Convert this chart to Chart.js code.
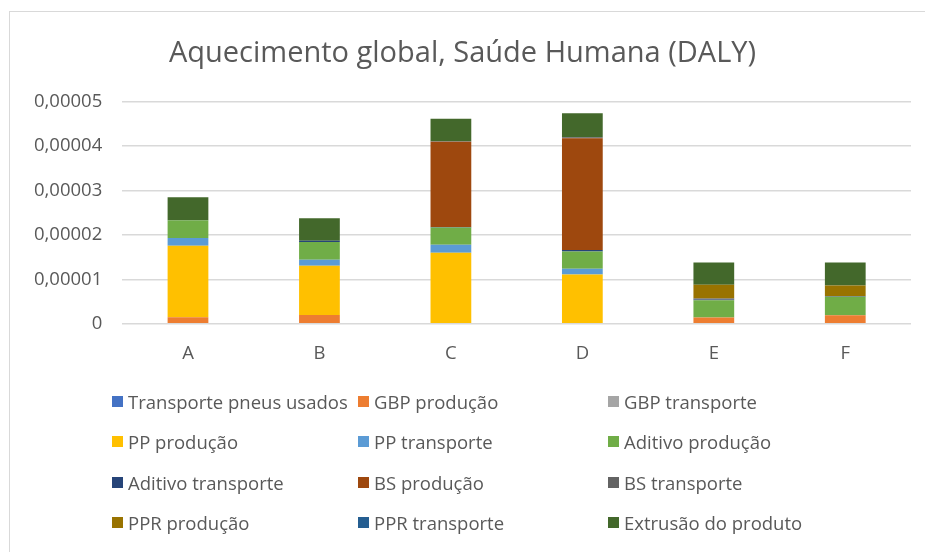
<!DOCTYPE html>
<html>
<head>
<meta charset="utf-8">
<script src="https://cdn.jsdelivr.net/npm/chart.js@4.4.1/dist/chart.umd.min.js"></script>
<style>
  html, body { margin: 0; padding: 0; background: #fff; }
  #wrap { position: relative; width: 925px; height: 552px; overflow: hidden; }
  #frame { position: absolute; left: 9px; top: 11px; width: 940px; height: 560px; border: 1.5px solid #d9d9d9; box-sizing: border-box; }
  #chart { position: absolute; left: 0; top: 0; }
  #legend { position: absolute; left: 112px; top: 381px; display: grid;
    grid-template-columns: 246px 250px 250px; grid-auto-rows: 40.5px;
    font-family: "Open Sans", sans-serif; font-size: 18.5px; color: #595959; }
  .item { display: flex; align-items: center; white-space: nowrap; }
  .box { width: 11px; height: 11px; margin-right: 5px; flex: none; }
</style>
</head>
<body>
<div id="wrap">
  <div id="frame"></div>
  <canvas id="chart" width="925" height="552"></canvas>
  <div id="legend"></div>
</div>
<script>
// Aquecimento global, Saúde Humana (DALY) - stacked columns
var categories = ['A', 'B', 'C', 'D', 'E', 'F'];

var transportePneus   = [0, 0, 0, 0, 0, 0];
var gbpProducao       = [0.15e-5, 0.20e-5, 0, 0, 0.14e-5, 0.19e-5];
var gbpTransporte     = [0, 0, 0, 0, 0, 0];
var ppProducao        = [1.61e-5, 1.11e-5, 1.60e-5, 1.11e-5, 0, 0];
var ppTransporte      = [0.17e-5, 0.13e-5, 0.18e-5, 0.13e-5, 0, 0];
var aditivoProducao   = [0.40e-5, 0.40e-5, 0.39e-5, 0.39e-5, 0.39e-5, 0.42e-5];
var aditivoTransporte = [0.01e-5, 0.03e-5, 0.01e-5, 0.03e-5, 0.02e-5, 0.01e-5];
var bsProducao        = [0, 0, 1.92e-5, 2.52e-5, 0, 0];
var bsTransporte      = [0, 0, 0.01e-5, 0.02e-5, 0.02e-5, 0];
var pprProducao       = [0, 0, 0, 0, 0.31e-5, 0.24e-5];
var pprTransporte     = [0, 0, 0, 0, 0, 0];
var extrusao          = [0.51e-5, 0.51e-5, 0.51e-5, 0.54e-5, 0.50e-5, 0.52e-5];

var yTicks = [0, 0.00001, 0.00002, 0.00003, 0.00004, 0.00005];

var series = [
  { label: 'Transporte pneus usados', data: transportePneus, color: '#4472C4' },
  { label: 'GBP produção', data: gbpProducao, color: '#ED7D31' },
  { label: 'GBP transporte', data: gbpTransporte, color: '#A5A5A5' },
  { label: 'PP produção', data: ppProducao, color: '#FFC000' },
  { label: 'PP transporte', data: ppTransporte, color: '#5B9BD5' },
  { label: 'Aditivo produção', data: aditivoProducao, color: '#70AD47' },
  { label: 'Aditivo transporte', data: aditivoTransporte, color: '#264478' },
  { label: 'BS produção', data: bsProducao, color: '#9E480E' },
  { label: 'BS transporte', data: bsTransporte, color: '#636363' },
  { label: 'PPR produção', data: pprProducao, color: '#997300' },
  { label: 'PPR transporte', data: pprTransporte, color: '#255E91' },
  { label: 'Extrusão do produto', data: extrusao, color: '#43682B' }
];

var datasets = series.map(function(s) {
  return {
    label: s.label,
    data: s.data,
    backgroundColor: s.color,
    borderWidth: 0,
    barPercentage: 0.31,
    categoryPercentage: 1
  };
});

function fmtTick(v) {
  if (v === 0) return '0';
  return v.toFixed(5).replace('.', ',');
}

var chart = new Chart(document.getElementById('chart'), {
  type: 'bar',
  data: { labels: categories, datasets: datasets },
  options: {
    responsive: false,
    animation: false,
    layout: { padding: { left: 14, right: 14, top: 36, bottom: 176 } },
    plugins: {
      legend: { display: false },
      tooltip: { enabled: false },
      title: {
        display: true,
        text: 'Aquecimento global, Saúde Humana (DALY)',
        color: '#595959',
        font: { family: 'Open Sans', size: 29, weight: 'normal' },
        padding: { top: 0, bottom: 31 }
      }
    },
    scales: {
      x: {
        stacked: true,
        grid: { display: false },
        border: { display: false },
        ticks: { color: '#595959', font: { family: 'Open Sans', size: 18.5 }, padding: 11 }
      },
      y: {
        stacked: true,
        min: 0,
        max: 0.00005,
        afterBuildTicks: function(axis) {
          axis.ticks = yTicks.map(function(v) { return { value: v }; });
        },
        grid: { color: '#d9d9d9', lineWidth: 1.5, drawTicks: false },
        border: { display: false },
        ticks: { color: '#595959', font: { family: 'Open Sans', size: 18.5 }, padding: 20,
          callback: function(v) { return fmtTick(v); } }
      }
    }
  }
});

// legend laid out in three columns, as in the original
var legendEl = document.getElementById('legend');
series.forEach(function(s) {
  var item = document.createElement('div');
  item.className = 'item';
  item.innerHTML = '<span class="box" style="background:' + s.color + '"></span>' + s.label;
  legendEl.appendChild(item);
});
</script>
</body>
</html>
